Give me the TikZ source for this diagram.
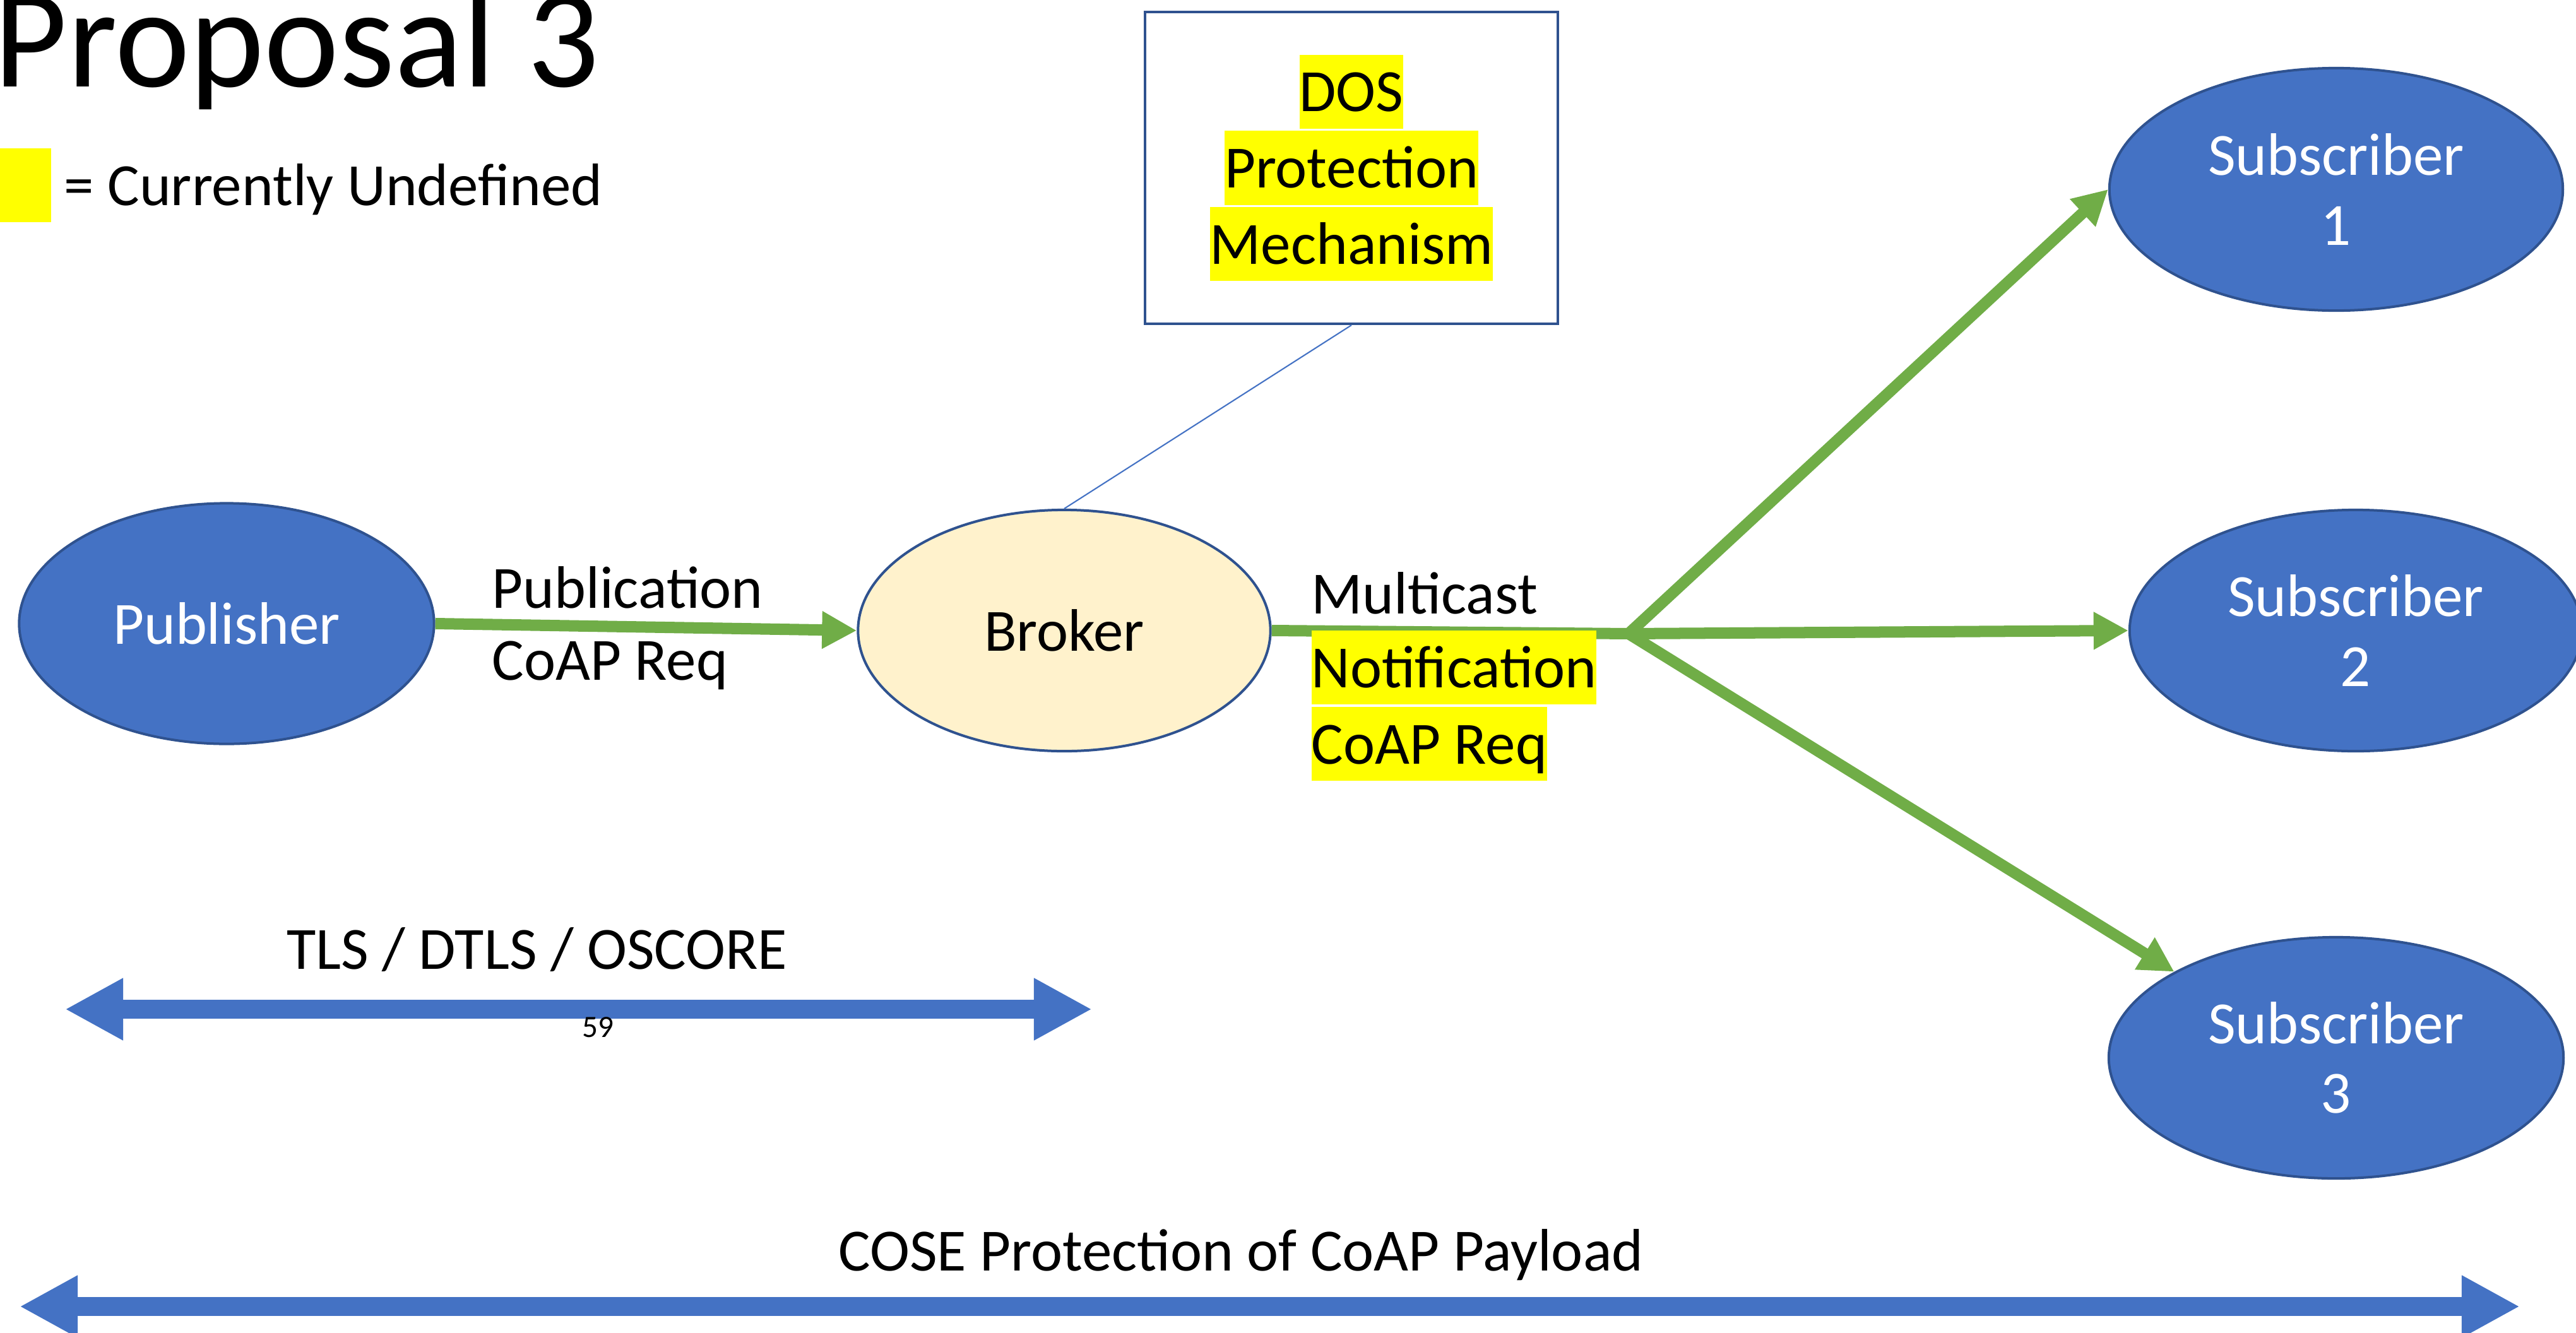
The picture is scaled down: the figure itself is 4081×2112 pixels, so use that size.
\documentclass[tikz,border=0pt]{standalone}
\usepackage{fontspec}
\setmainfont{Carlito}
\usetikzlibrary{arrows.meta,shapes.geometric,positioning}

\definecolor{nodeblue}{HTML}{4472C4}
\definecolor{edgeblue}{HTML}{2F528F}
\definecolor{flowgreen}{HTML}{70AD47}
\definecolor{brokerfill}{HTML}{FFF2CC}
\definecolor{hlyellow}{HTML}{FFFF00}

% yellow mark for parts that are not defined yet
\newcommand{\hlundef}[1]{{\setlength{\fboxsep}{0pt}\colorbox{hlyellow}{\rule[-0.27cm]{0pt}{1.17cm}#1}}}

\tikzset{
  every node/.style={font=\fontsize{27}{32.4}\selectfont},
  party/.style={ellipse, draw=edgeblue, line width=0.04cm, fill=nodeblue, text=white,
    inner sep=0pt, minimum width=7.18cm, minimum height=3.84cm, align=center,
    font=\fontsize{27}{31.3}\selectfont},
  brokernode/.style={ellipse, draw=edgeblue, line width=0.04cm, fill=brokerfill,
    inner sep=0pt, minimum width=6.53cm, minimum height=3.82cm},
  flowarrow/.style={flowgreen, line width=0.18cm, -{Triangle[length=0.55cm,width=0.56cm]}},
  layerspan/.style={nodeblue, line width=0.30cm,
    {Triangle[length=0.92cm,width=0.92cm]}-{Triangle[length=0.92cm,width=0.92cm]}},
  lbl/.style={anchor=base west, align=left, inner sep=0pt},
  midlbl/.style={anchor=base, inner sep=0pt}
}

\begin{document}
\begin{tikzpicture}[x=0.01cm, y=-0.01cm]
  \useasboundingbox[fill=white] (0,0) rectangle (4081,2112);

  % title and legend
  \node[lbl, font=\fontsize{64}{76}\selectfont] (title) at (-10,137) {Proposal 3};
  \node[fill=hlyellow, inner sep=0pt, minimum width=0.9cm, minimum height=1.17cm,
        anchor=north east] (legendkey) at (82,234) {};
  \node[lbl] (legendtxt) at (101,325) {= Currently Undefined};

  % parties
  \node[party, minimum width=6.57cm, minimum height=3.81cm] (pub) at (359,988) {Publisher};
  \node[brokernode] (broker) at (1686,999) {Broker};
  \node[party] (sub1) at (3701,300) {Subscriber\\1};
  \node[party, minimum width=7.16cm, minimum height=3.82cm] (sub2) at (3732,999) {Subscriber\\2};
  \node[party, minimum width=7.20cm, minimum height=3.82cm] (sub3) at (3701,1676) {Subscriber\\3};

  % dos box
  \node[draw=edgeblue, line width=0.04cm, minimum width=6.53cm, minimum height=4.94cm,
        align=center, inner sep=0pt, font=\fontsize{27}{33.2}\selectfont] (dosbox) at (2141,266)
        {\hlundef{DOS}\\\hlundef{Protection}\\\hlundef{Mechanism}};
  \draw[nodeblue, line width=0.6pt] (dosbox.south) -- (broker.north);

  % messages
  \coordinate (split) at (2580,1004);
  \draw[flowarrow] (pub.east) -- (broker.west);
  \draw[flowgreen, line width=0.18cm] (broker.east) -- (split);
  \draw[flowarrow] (split) -- (sub1.west);
  \draw[flowarrow] (split) -- (sub2.west);
  \draw[flowarrow] (split) -- (sub3.152);

  % base of a two or three line label is its last line
  \node[lbl] (publbl) at (779,1077) {Publication\\CoAP Req};
  \node[lbl, font=\fontsize{27}{33.2}\selectfont] (mclbl) at (2077,1210)
        {Multicast\\\hlundef{Notification}\\\hlundef{CoAP Req}};

  % protection layers
  \coordinate (tlsL) at (103,1599);
  \coordinate (tlsR) at (1730,1599);
  \draw[layerspan] (tlsL) -- (tlsR);
  \node[midlbl] (tlslbl) at (851,1535) {TLS / DTLS / OSCORE};
  \node[midlbl, font=\fontsize{14}{17}\selectfont] (pagenum) at (947,1643) {59};

  \coordinate (coseL) at (31,2070);
  \coordinate (coseR) at (3992,2070);
  \draw[layerspan] (coseL) -- (coseR);
  \node[midlbl] (coselbl) at (1966,2013) {COSE Protection of CoAP Payload};
\end{tikzpicture}
\end{document}
